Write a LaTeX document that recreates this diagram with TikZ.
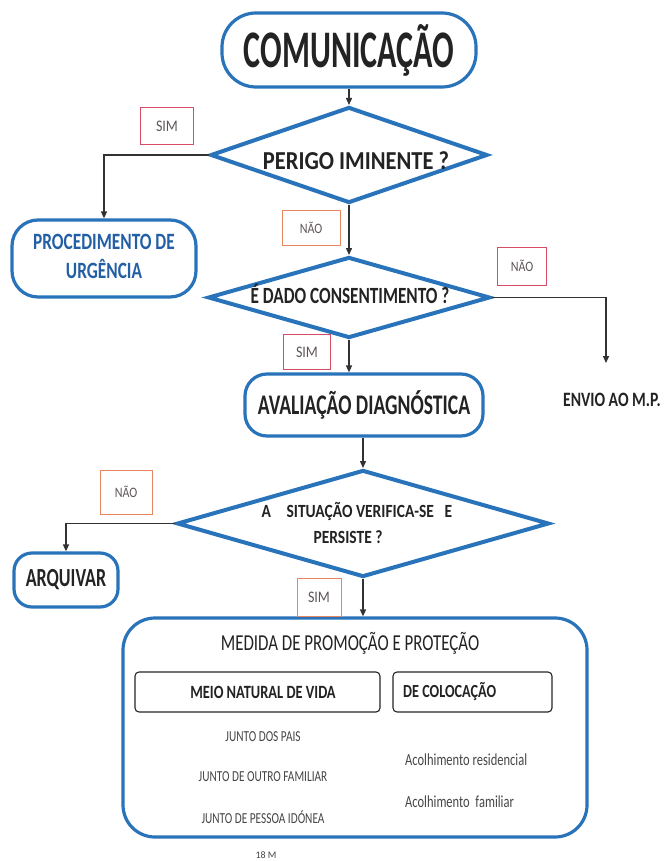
\documentclass[tikz,border=0pt]{standalone}
\usepackage{fontspec}
\setmainfont{Carlito}
\usetikzlibrary{shapes.geometric,arrows.meta}
\definecolor{bblue}{RGB}{40,115,185}
\definecolor{pblue}{RGB}{35,95,165}
\definecolor{tdark}{RGB}{35,35,35}
\definecolor{tgray}{RGB}{70,70,70}
\definecolor{lgray}{RGB}{95,85,90}
\definecolor{sred}{RGB}{215,75,100}
\definecolor{norange}{RGB}{232,135,95}
\definecolor{cgray}{RGB}{50,50,50}
\newcommand\vs[2]{\scalebox{1}[#1]{#2}}
\begin{document}
\begin{tikzpicture}[x=1pt,y=-1pt,
  rbox/.style={draw=bblue, line width=3.2pt, rounded corners=#1, inner sep=0pt, text=tdark},
  dia/.style={draw=bblue, line width=4pt, diamond, inner sep=0pt},
  lbl/.style={draw=#1, line width=0.8pt, inner sep=0pt, text=lgray},
  conn/.style={draw=cgray, line width=1.4pt, -{Triangle[length=7pt,width=6pt]}},
  subbox/.style={draw=black!85, line width=1.1pt, rounded corners=4pt, inner sep=0pt},
  ttext/.style={text=tdark, inner sep=0pt},
]
\useasboundingbox[fill=white] (0,0) rectangle (664,861);

% main nodes
\node[rbox=34pt, minimum width=254, minimum height=74, font=\bfseries\fontsize{32}{38}\selectfont] (com) at (349,50) {\vs{1.65}{COMUNICAÇÃO}};

\node[dia, minimum width=277, minimum height=96] (d1) at (349,155) {};
\node[ttext, font=\bfseries\fontsize{22.5}{27}\selectfont] (t1) at (356,161) {\vs{1.15}{PERIGO IMINENTE ?}};

\node[rbox=26pt, minimum width=184, minimum height=77, text=pblue, font=\bfseries\fontsize{17.3}{21.5}\selectfont] (proc) at (104,258.5) {\vs{1.35}{\begin{tabular}{@{}c@{}}PROCEDIMENTO DE\\URGÊNCIA\end{tabular}}};

\node[dia, minimum width=282, minimum height=81] (d2) at (349,297.5) {};
\node[ttext, font=\bfseries\fontsize{17.2}{21}\selectfont] (t2) at (350,294) {\vs{1.35}{É DADO CONSENTIMENTO ?}};

\node[rbox=22pt, minimum width=238, minimum height=62, font=\bfseries\fontsize{19.6}{24}\selectfont] (av) at (364,405) {\vs{1.45}{AVALIAÇÃO DIAGNÓSTICA}};

\node[ttext, font=\bfseries\fontsize{15.7}{19}\selectfont] (envio) at (612,400) {\vs{1.3}{ENVIO AO M.P.}};

\node[dia, minimum width=372, minimum height=107] (d3) at (363,523.5) {};
\node[ttext, font=\bfseries\fontsize{15.5}{19}\selectfont] (t3a) at (357,511) {\vs{1.2}{A\hspace{1em}SITUAÇÃO VERIFICA-SE\hspace{0.7em}E}};
\node[ttext, font=\bfseries\fontsize{15.5}{19}\selectfont] (t3b) at (348,537) {\vs{1.2}{PERSISTE ?}};

\node[rbox=18pt, minimum width=104, minimum height=54, font=\bfseries\fontsize{18}{22}\selectfont] (arq) at (66,580) {\vs{1.45}{ARQUIVAR}};

\node[rbox=32pt, minimum width=464, minimum height=219] (big) at (355,727.5) {};
\node[ttext, font=\fontsize{16.9}{20}\selectfont] (med) at (350,643) {\vs{1.35}{MEDIDA DE PROMOÇÃO E PROTEÇÃO}};
\node[subbox, minimum width=245, minimum height=40] (meio) at (257.5,692) {};
\node[ttext, font=\bfseries\fontsize{14.4}{18}\selectfont] (meiot) at (263,692) {\vs{1.3}{MEIO NATURAL DE VIDA}};
\node[subbox, minimum width=159, minimum height=40] (col) at (472.5,692) {};
\node[ttext, anchor=west, font=\bfseries\fontsize{14.2}{18}\selectfont] (colt) at (403,692) {\vs{1.3}{DE COLOCAÇÃO}};

\node[ttext, text=tgray, font=\fontsize{11.3}{14}\selectfont] (j1) at (263,737) {\vs{1.35}{JUNTO DOS PAIS}};
\node[ttext, text=tgray, font=\fontsize{11.3}{14}\selectfont] (j2) at (263,777) {\vs{1.35}{JUNTO DE OUTRO FAMILIAR}};
\node[ttext, text=tgray, font=\fontsize{11.3}{14}\selectfont] (j3) at (263,817) {\vs{1.35}{JUNTO DE PESSOA IDÓNEA}};
\node[ttext, text=tgray, anchor=west, font=\fontsize{12.5}{15}\selectfont] (a1) at (405,760) {\vs{1.35}{Acolhimento residencial}};
\node[ttext, text=tgray, anchor=west, font=\fontsize{12.5}{15}\selectfont] (a2) at (405,802) {\vs{1.35}{Acolhimento\ \ familiar}};
\node[ttext, text=tgray, font=\fontsize{10}{12}\selectfont] (foot) at (266,855) {18 M};

% labels
\node[lbl=sred, minimum width=53, minimum height=37, font=\fontsize{14}{17}\selectfont] (s1) at (167,126) {\vs{1.15}{SIM}};
\node[lbl=norange, minimum width=58, minimum height=35, font=\fontsize{12}{15}\selectfont] (n1) at (311,228) {\vs{1.2}{NÃO}};
\node[lbl=sred, minimum width=49, minimum height=38, font=\fontsize{12}{15}\selectfont] (n2) at (522,266) {\vs{1.2}{NÃO}};
\node[lbl=sred, minimum width=47, minimum height=35, font=\fontsize{14}{17}\selectfont] (s2) at (307,352) {\vs{1.15}{SIM}};
\node[lbl=norange, minimum width=52, minimum height=44, font=\fontsize{12}{15}\selectfont] (n3) at (126,492) {\vs{1.2}{NÃO}};
\node[lbl=norange, minimum width=44, minimum height=38, font=\fontsize{14}{17}\selectfont] (s3) at (319,597) {\vs{1.15}{SIM}};

% connectors
\coordinate (e1) at (606,363);
\draw[conn] (com.south) -- (d1.north);
\draw[conn] (d1.west) -| (proc.north);
\draw[conn] (d1.south) -- (d2.north);
\draw[conn] (d2.east) -| (e1);
\draw[conn] (d2.south) -- (d2.south |- av.north);
\draw[conn] (av.south -| d3.north) -- (d3.north);
\draw[conn] (d3.west) -| (arq.north);
\draw[conn] (d3.south) -- (d3.south |- big.north);
\end{tikzpicture}
\end{document}
